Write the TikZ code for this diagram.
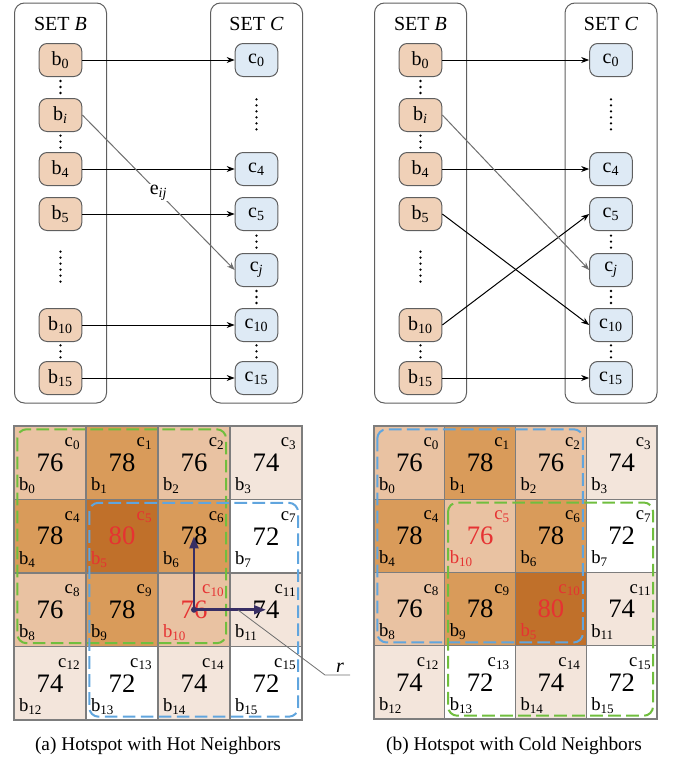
\documentclass[tikz,border=0pt]{standalone}
\usepackage{fontspec}
\setmainfont{Liberation Serif}
\usetikzlibrary{arrows.meta}

% cell shades, by temperature
\definecolor{h80}{RGB}{192,112,42}
\definecolor{h78}{RGB}{217,155,90}
\definecolor{h76}{RGB}{233,194,162}
\definecolor{h74}{RGB}{243,229,219}
\definecolor{h72}{RGB}{255,255,255}
\definecolor{bfill}{RGB}{240,209,184}
\definecolor{cfill}{RGB}{222,234,245}
\definecolor{edgegray}{RGB}{95,95,95}
\definecolor{gridgray}{RGB}{125,125,125}
\definecolor{linkgray}{RGB}{110,110,110}
\definecolor{hotred}{RGB}{230,50,50}
\definecolor{nbgreen}{RGB}{112,190,62}
\definecolor{nbblue}{RGB}{96,165,222}
\definecolor{navy}{RGB}{56,46,100}

\tikzset{every picture/.style={line width=0.75pt}}
\tikzset{
  setbox/.style={draw=edgegray, rounded corners=7.5pt, minimum width=69pt, minimum height=300pt},
  settitle/.style={inner sep=0pt, font=\fontsize{15}{18}\selectfont},
  bnode/.style={draw=edgegray, fill=bfill, rounded corners=6pt, minimum width=32pt, minimum height=24.75pt, inner sep=0pt, font=\fontsize{15}{18}\selectfont},
  cnode/.style={bnode, fill=cfill},
  link/.style={-{Stealth[length=6pt,width=4.5pt]}, black},
  glink/.style={-{Stealth[length=6pt,width=4.5pt]}, draw=linkgray},
  elabel/.style={fill=white, inner sep=1pt, font=\fontsize{15}{18}\selectfont},
  vdots/.style={line width=1.9pt, line cap=round, dash pattern=on 0pt off 4.5pt, shorten >=#1, shorten <=#1},
  cell/.style={draw=gridgray, line width=1.1pt, inner sep=0pt, font=\fontsize{20}{24}\selectfont},
  clabel/.style={inner sep=0pt, font=\fontsize{14}{16}\selectfont},
  nbhood/.style={dash pattern=on 9.5pt off 4pt, line width=1.5pt, rounded corners=7pt},
  reach/.style={draw=navy, line width=2pt, -{Triangle[length=9pt,width=6.5pt]}},
  leader/.style={draw=linkgray, line width=0.6pt},
  caption/.style={font=\fontsize{14.5}{17}\selectfont},
}

\begin{document}
\begin{tikzpicture}[x=0.75pt,y=0.75pt,yscale=-1,xscale=1]
    \useasboundingbox (0,0) rectangle (677,764);

    %Shape: the two bipartite panels
    \foreach \p/\bx/\cx in {hot/60.5/256.5, cold/420.5/611}{
      \node[setbox] (\p-setB) at (\bx,203) {};
      \node[setbox] (\p-setC) at (\cx,203) {};
      \node[settitle] (\p-titleB) at (\bx,24) {SET \textit{B}};
      \node[settitle] (\p-titleC) at (\cx,24) {SET \textit{C}};
      \foreach \n/\s/\y in {0/0/60, i/\textit{i}/115, 4/4/169, 5/5/214, 10/10/325, 15/15/378}
        \node[bnode] (\p-b\n) at (\bx,\y) {b\textsubscript{\s}};
      \foreach \n/\s/\y in {0/0/60, 4/4/169, 5/5/214, j/\textit{j}/270, 10/10/325, 15/15/378}
        \node[cnode] (\p-c\n) at (\cx,\y) {c\textsubscript{\s}};
      % dotted gaps
      \draw[vdots=3pt] (\p-b0) -- (\p-bi);
      \draw[vdots=2.7pt] (\p-bi) -- (\p-b4);
      \draw[vdots=15.4pt] (\p-b5) -- (\p-b10);
      \draw[vdots=2.5pt] (\p-b10) -- (\p-b15);
      \draw[vdots=16.8pt] (\p-c0) -- (\p-c4);
      \draw[vdots=3.5pt] (\p-c5) -- (\p-cj);
      \draw[vdots=3pt] (\p-cj) -- (\p-c10);
      \draw[vdots=2.5pt] (\p-c10) -- (\p-c15);
    }

    %Straight Lines: hot side matching
    \draw[link] (hot-b0) -- (hot-c0);
    \draw[link] (hot-b4) -- (hot-c4);
    \draw[link] (hot-b5) -- (hot-c5);
    \draw[link] (hot-b10) -- (hot-c10);
    \draw[link] (hot-b15) -- (hot-c15);
    \draw[glink] (hot-bi.east) -- node[elabel] (hot-eij) {e\textsubscript{\textit{ij}}} (hot-cj.west);

    %Straight Lines: cold side matching
    \draw[link] (cold-b0) -- (cold-c0);
    \draw[link] (cold-b4) -- (cold-c4);
    \draw[link] (cold-b5.east) -- (cold-c10.west);
    \draw[link] (cold-b10.east) -- (cold-c5.west);
    \draw[link] (cold-b15) -- (cold-c15);
    \draw[glink] (cold-bi.east) -- (cold-cj.west);

    %Shape: Grid (hot neighbors)
    % (yscale=-1 flips yshift, so positive yshift moves down here)
    \foreach \v/\b/\tc [count=\k from 0] in {76/0/black, 78/1/black, 76/2/black, 74/3/black,
        78/4/black, 80/5/hotred, 78/6/black, 72/7/black, 76/8/black, 78/9/black, 76/10/hotred,
        74/11/black, 74/12/black, 72/13/black, 74/14/black, 72/15/black}{
      \pgfmathtruncatemacro\col{mod(\k,4)}
      \pgfmathtruncatemacro\row{\k/4}
      \node[cell, fill=h\v, text=\tc, minimum width=54pt, minimum height=55.1pt] (hot-g\k) at ({50+72*\col},{462.75+73.5*\row}) {\v};
      \node[clabel, text=\tc, anchor=north east] (hot-gc\k) at ([xshift=-4.5pt,yshift=9pt]hot-g\k.north east) {c\textsubscript{\k}};
      \node[clabel, text=\tc, anchor=south west] (hot-gb\k) at ([xshift=4pt,yshift=-4.5pt]hot-g\k.south west) {b\textsubscript{\b}};
    }
    \draw[nbhood, nbgreen] ([xshift=3pt,yshift=3pt]hot-g0.north west) rectangle ([xshift=-3.5pt,yshift=-3pt]hot-g10.south east);
    \draw[nbhood, nbblue] ([xshift=3pt,yshift=3pt]hot-g5.north west) rectangle ([xshift=-3.5pt,yshift=-3pt]hot-g15.south east);

    %Straight Lines: reach of the hotspot
    \fill[navy] (hot-g10.center) circle (3);
    \draw[reach] (hot-g10.center) -- (hot-g6.center);
    \draw[reach] (hot-g10.center) -- (hot-g11.center);
    \coordinate (hot-rfoot) at (238,610);
    \coordinate (hot-rbend) at (325,675);
    \coordinate (hot-rend) at (350,675);
    \node[clabel, anchor=south, font=\fontsize{15}{18}\selectfont] (hot-r) at (340,673) {\textit{r}};
    \draw[leader] (hot-rfoot) -- (hot-rbend) -- (hot-rend);

    %Shape: Grid (cold neighbors)
    \foreach \v/\b/\tc [count=\k from 0] in {76/0/black, 78/1/black, 76/2/black, 74/3/black,
        78/4/black, 76/10/hotred, 78/6/black, 72/7/black, 76/8/black, 78/9/black, 80/5/hotred,
        74/11/black, 74/12/black, 72/13/black, 74/14/black, 72/15/black}{
      \pgfmathtruncatemacro\col{mod(\k,4)}
      \pgfmathtruncatemacro\row{\k/4}
      \node[cell, fill=h\v, text=\tc, minimum width=53.06pt, minimum height=54.94pt] (cold-g\k) at ({409.375+70.75*\col},{462.625+73.25*\row}) {\v};
      \node[clabel, text=\tc, anchor=north east] (cold-gc\k) at ([xshift=-4.5pt,yshift=9pt]cold-g\k.north east) {c\textsubscript{\k}};
      \node[clabel, text=\tc, anchor=south west] (cold-gb\k) at ([xshift=4pt,yshift=-4.5pt]cold-g\k.south west) {b\textsubscript{\b}};
    }
    \draw[nbhood, nbblue] ([xshift=3pt,yshift=3pt]cold-g0.north west) rectangle ([xshift=-3pt,yshift=-3pt]cold-g10.south east);
    \draw[nbhood, nbgreen] ([xshift=3pt,yshift=3pt]cold-g5.north west) rectangle ([xshift=-3.5pt,yshift=-3pt]cold-g15.south east);

    % Text Node
    \node[caption] (hot-cap) at (158,746) {(a) Hotspot with Hot Neighbors};
    % Text Node
    \node[caption] (cold-cap) at (514,746) {(b) Hotspot with Cold Neighbors};

\end{tikzpicture}
\end{document}
